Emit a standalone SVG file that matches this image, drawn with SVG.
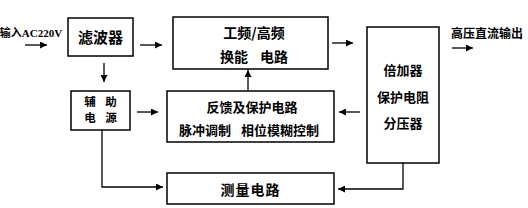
<svg xmlns="http://www.w3.org/2000/svg" width="528" height="208" viewBox="0 0 528 208">
<defs>
<marker id="ah" viewBox="0 0 10 10" refX="10" refY="5" markerWidth="7" markerHeight="7" markerUnits="userSpaceOnUse" orient="auto"><path d="M0,0 L10,5 L0,10 z" fill="#000"/></marker>
<style>
.box{fill:#fff;stroke:#000;stroke-width:1.5}
.t{font-family:"Noto Sans CJK SC","Liberation Sans",sans-serif;font-weight:bold;fill:#000;text-anchor:middle}
.c{fill:none;stroke:#000;stroke-width:1.3}
.a{marker-end:url(#ah)}
</style>
</defs>
<rect width="528" height="208" fill="#fff"/>
<g id="input"><text class="t" x="31" y="37" font-size="11" style="font-family:'Liberation Serif','Noto Sans CJK SC',serif">输入AC220V</text></g>
<g id="filter"><rect class="box" x="68" y="18" width="65" height="38"/><text class="t" x="100.5" y="43" font-size="15">滤波器</text></g>
<g id="converter"><rect class="box" x="173" y="17" width="155" height="52"/><text class="t" x="254" y="38" font-size="14">工频/高频</text><text class="t" x="234" y="62" font-size="14">换能</text><text class="t" x="274" y="62" font-size="14">电路</text></g>
<g id="multiplier"><rect class="box" x="367" y="27" width="72" height="136"/><text class="t" x="403" y="75" font-size="13">倍加器</text><text class="t" x="403" y="102" font-size="13">保护电阻</text><text class="t" x="403" y="128" font-size="13">分压器</text></g>
<g id="aux"><rect class="box" x="71" y="91" width="59" height="39"/><text class="t" x="90" y="106" font-size="11.5">辅</text><text class="t" x="111" y="106" font-size="11.5">助</text><text class="t" x="90" y="122" font-size="11.5">电</text><text class="t" x="111" y="122" font-size="11.5">源</text></g>
<g id="feedback"><rect class="box" x="167" y="91" width="167" height="51"/><text class="t" x="252" y="112" font-size="13">反馈及保护电路</text><text class="t" x="205" y="135" font-size="13">脉冲调制</text><text class="t" x="280" y="135" font-size="13">相位模糊控制</text></g>
<g id="measure"><rect class="box" x="167" y="173" width="167" height="31"/><text class="t" x="250.5" y="195" font-size="14" letter-spacing="1">测量电路</text></g>
<g id="output"><text class="t" x="487" y="38" font-size="12">高压直流输出</text></g>
<g id="connectors">
<path class="c a" d="M25,45 H47"/>
<path class="c a" d="M140,45 H162"/>
<path class="c a" d="M104,63 V82"/>
<path class="c a" d="M332,43 H353"/>
<path class="c a" d="M452,48 H473"/>
<path class="c a" d="M248,90 V70"/>
<path class="c a" d="M137,112 H158"/>
<path class="c a" d="M360,112 H339"/>
<path class="c a" d="M102,130 V187 H163"/>
<path class="c a" d="M403,163 V189 H338"/>
</g>
</svg>
